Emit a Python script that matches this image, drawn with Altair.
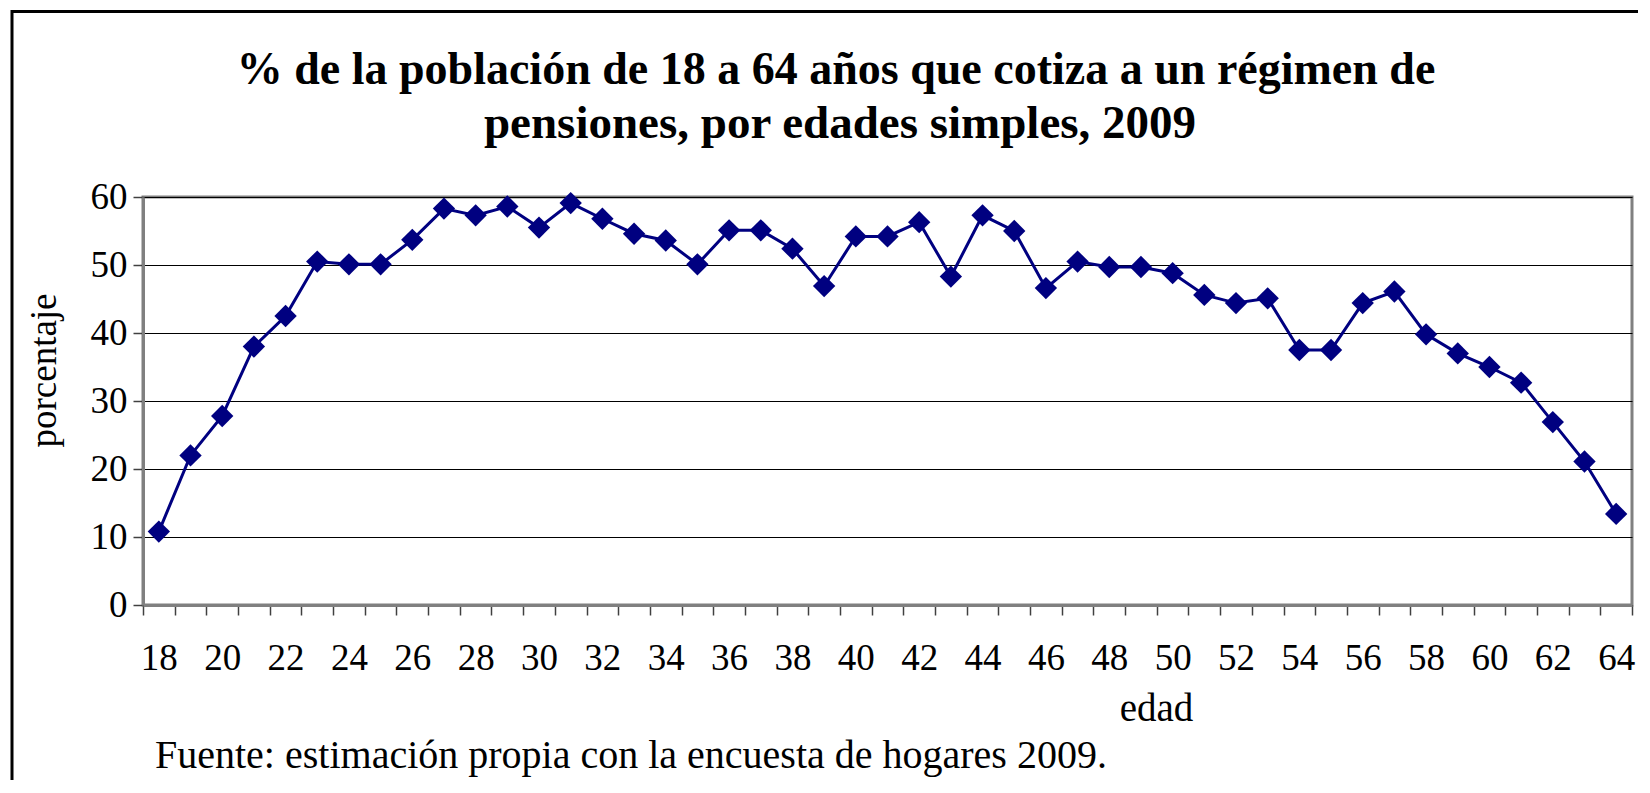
import altair as alt
import pandas as pd

# ---- data ----
ages = list(range(18, 65))
pct = [10.8, 22.0, 27.8, 38.0, 42.5, 50.5, 50.1, 50.1, 53.7, 58.3,
       57.3, 58.6, 55.5, 59.1, 56.8, 54.6, 53.6, 50.1, 55.1, 55.1,
       52.4, 46.9, 54.2, 54.2, 56.3, 48.3, 57.3, 55.0, 46.6, 50.5,
       49.7, 49.7, 48.8, 45.6, 44.4, 45.1, 37.5, 37.5, 44.4, 46.1,
       39.8, 37.0, 35.0, 32.7, 26.9, 21.1, 13.4]
y_ticks = [0, 10, 20, 30, 40, 50, 60]
title_lines = ["% de la población de 18 a 64 años que cotiza a un régimen de",
               "pensiones, por edades simples, 2009"]
x_title = "edad"
y_title = "porcentaje"
footer = "Fuente: estimación propia con la encuesta de hogares 2009."

df = pd.DataFrame({"edad": ages, "pct": pct})
one = pd.DataFrame({"t": [footer]})

W, H = 1489, 408
band = W / len(ages)
FONT = "Liberation Serif"
edges = [a - 0.5 for a in ages] + [ages[-1] + 0.5]

x_axis = alt.Axis(
    values=edges,
    labelExpr="((datum.value + 0.5) % 2 == 0 && datum.value < 64) ? format(datum.value + 0.5, 'd') : ''",
    labelOffset=band / 2, labelOverlap=False, labelFlush=False, labelBound=False,
    tickSize=10, tickColor="#404040", tickWidth=1.5,
    labelPadding=54, labelBaseline="alphabetic",
    labelFont=FONT, labelFontSize=37, labelColor="black",
    domainColor="#808080", domainWidth=3, grid=False,
    title=x_title, titleX=1013, titleY=115, titleBaseline="alphabetic",
    titleAlign="center", titleFont=FONT, titleFontSize=39,
    titleFontWeight="normal", titleColor="black",
)
y_axis = alt.Axis(
    values=y_ticks, tickSize=10, tickColor="#404040", tickWidth=1.5,
    labelPadding=6, labelFont=FONT, labelFontSize=37, labelColor="black",
    domainColor="#808080", domainWidth=3,
    grid=True, gridColor="black", gridWidth=1,
    title=y_title, titleAngle=270, titleX=-88, titleY=173,
    titleBaseline="alphabetic", titleAlign="center", titleFont=FONT,
    titleFontSize=37, titleFontWeight="normal", titleColor="black",
)

line = alt.Chart(df).mark_line(
    color="#000080", strokeWidth=3,
    point=alt.OverlayMarkDef(shape="diamond", size=500, filled=True,
                             color="#000080", opacity=1),
).encode(
    x=alt.X("edad:Q", scale=alt.Scale(domain=[17.5, 64.5], nice=False, zero=False),
            axis=x_axis),
    y=alt.Y("pct:Q", scale=alt.Scale(domain=[0, 60], nice=False), axis=y_axis),
)

frame = alt.Chart(one).mark_rect(filled=False, stroke="black", strokeWidth=3).encode(
    x=alt.value(-131), x2=alt.value(3000), y=alt.value(-185.5), y2=alt.value(3000)
)

t1 = alt.Chart(one).mark_text(
    font=FONT, fontSize=46, fontWeight="bold", align="center",
    baseline="alphabetic", color="black",
).encode(x=alt.value(693), y=alt.value(-113), text=alt.value(title_lines[0]))
t2 = alt.Chart(one).mark_text(
    font=FONT, fontSize=47, fontWeight="bold", align="center",
    baseline="alphabetic", color="black",
).encode(x=alt.value(697), y=alt.value(-59), text=alt.value(title_lines[1]))

foot = alt.Chart(one).mark_text(
    font=FONT, fontSize=40, align="left", baseline="alphabetic", color="black",
).encode(x=alt.value(12), y=alt.value(571), text="t:N")

chart = alt.layer(frame, line, t1, t2, foot).properties(
    width=W, height=H,
    autosize=alt.AutoSizeParams(type="none"),
    padding={"left": 135, "top": 189, "right": 6, "bottom": 175},
).configure_view(stroke="#808080", strokeWidth=3)

chart.save("out.html", embed_options={"renderer": "svg", "actions": False})
